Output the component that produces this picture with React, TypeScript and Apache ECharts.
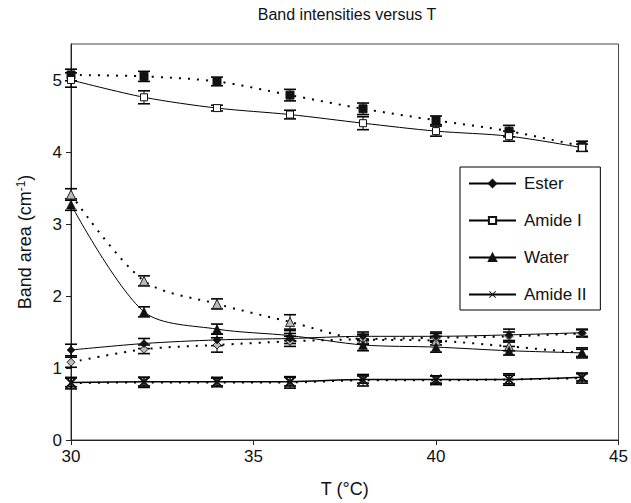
import React, { useEffect, useRef } from "react";
import * as echarts from "echarts";

const T = [30, 32, 34, 36, 38, 40, 42, 44];
const esterHeat = [1.25, 1.34, 1.39, 1.41, 1.44, 1.44, 1.46, 1.49];
const esterCool = [1.08, 1.26, 1.32, 1.37, 1.40, 1.42, 1.44, 1.48];
const amideIHeat = [5.0, 4.76, 4.61, 4.52, 4.4, 4.29, 4.22, 4.06];
const amideICool = [5.07, 5.05, 4.98, 4.79, 4.6, 4.44, 4.29, 4.08];
const waterHeat = [3.27, 1.78, 1.54, 1.45, 1.32, 1.29, 1.24, 1.21];
const waterCool = [3.41, 2.21, 1.89, 1.64, 1.4, 1.38, 1.3, 1.21];
const amideIIHeat = [0.8, 0.81, 0.81, 0.81, 0.84, 0.84, 0.84, 0.87];
const amideIICool = [0.79, 0.8, 0.8, 0.8, 0.83, 0.83, 0.84, 0.86];

const esterHeatErr = [0.08, 0.07, 0.08, 0.07, 0.06, 0.06, 0.08, 0.05];
const esterCoolErr = [0.07, 0.06, 0.1, 0.07, 0.06, 0.06, 0.06, 0.05];
const amideIHeatErr = [0.1, 0.09, 0.04, 0.06, 0.09, 0.07, 0.07, 0.05];
const amideICoolErr = [0.08, 0.07, 0.06, 0.08, 0.08, 0.06, 0.08, 0.07];
const waterHeatErr = [0.08, 0.07, 0.07, 0.07, 0.08, 0.07, 0.06, 0.07];
const waterCoolErr = [0.08, 0.07, 0.07, 0.1, 0.07, 0.06, 0.06, 0.05];
const amideIIHeatErr = [0.06, 0.06, 0.06, 0.06, 0.05, 0.05, 0.06, 0.05];
const amideIICoolErr = [0.05, 0.05, 0.05, 0.05, 0.05, 0.05, 0.05, 0.05];

const xTicks = [30, 35, 40, 45];
const yTicks = [0, 1, 2, 3, 4, 5];

const X_SYMBOL =
  "path://M0,1L1,0L5,4L9,0L10,1L6,5L10,9L9,10L5,6L1,10L0,9L4,5Z";

const FONT = "Liberation Sans, Arial, sans-serif";

function pairs(vals: number[]) {
  return T.map((t, i) => [t, vals[i]]);
}

function errData(vals: number[], errs: number[]) {
  return T.map((t, i) => [t, vals[i] - errs[i], vals[i] + errs[i]]);
}

export default function App() {
  const ref = useRef<HTMLDivElement>(null);

  useEffect(() => {
    document.body.style.margin = "0";
    if (!ref.current) return;
    const chart = echarts.init(ref.current, null, { renderer: "svg" });

    const allErr = [
      ...errData(esterHeat, esterHeatErr),
      ...errData(esterCool, esterCoolErr),
      ...errData(amideIHeat, amideIHeatErr),
      ...errData(amideICool, amideICoolErr),
      ...errData(waterHeat, waterHeatErr),
      ...errData(waterCool, waterCoolErr),
      ...errData(amideIIHeat, amideIIHeatErr),
      ...errData(amideIICool, amideICoolErr),
    ];

    const solid = { color: "#000", width: 1, type: "solid" as const };
    const dotted = { color: "#000", width: 2, type: [2, 7] as any };

    chart.setOption({
      animation: false,
      backgroundColor: "#fff",
      textStyle: { fontFamily: FONT },
      title: {
        text: "Band intensities versus T",
        left: 342,
        textAlign: "center",
        top: 1,
        textStyle: { fontFamily: FONT, fontSize: 16, fontWeight: "normal", color: "#111" },
      },
      grid: {
        left: 71,
        right: 11,
        top: 44,
        bottom: 61,
        show: true,
        borderColor: "#444",
        borderWidth: 1,
        backgroundColor: "transparent",
      },
      legend: {
        orient: "vertical",
        left: 460,
        top: 167,
        data: ["Ester", "Amide I", "Water", "Amide II"],
        itemWidth: 47,
        itemHeight: 9,
        itemGap: 20,
        padding: [8, 14, 7, 8],
        borderColor: "#000",
        borderWidth: 1,
        backgroundColor: "#fff",
        textStyle: { fontFamily: FONT, fontSize: 17, color: "#111", padding: [0, 0, 0, 3] },
      },
      xAxis: {
        type: "value",
        min: 30,
        max: 45,
        interval: 5,
        name: "T (°C)",
        nameLocation: "middle",
        nameGap: 40,
        nameTextStyle: { fontFamily: FONT, fontSize: 18, color: "#111" },
        axisLine: { lineStyle: { color: "#222", width: 1 } },
        axisTick: { show: true, length: 5, inside: false, lineStyle: { color: "#222" }, customValues: xTicks },
        axisLabel: { fontFamily: FONT, fontSize: 17, color: "#111", margin: 8, customValues: xTicks },
        splitLine: { show: false },
      },
      yAxis: {
        type: "value",
        min: 0,
        max: 5.5,
        interval: 1,
        name: "Band area (cm{sup|-1})",
        nameLocation: "middle",
        nameGap: 36,
        nameTextStyle: {
          fontFamily: FONT,
          fontSize: 18,
          color: "#111",
          lineHeight: 20,
          rich: {
            sup: { fontFamily: FONT, fontSize: 12, color: "#111", verticalAlign: "top", lineHeight: 12 },
          },
        },
        axisLine: { show: true, lineStyle: { color: "#222", width: 1 } },
        axisTick: { show: true, length: 5, inside: false, lineStyle: { color: "#222" }, customValues: yTicks },
        axisLabel: { fontFamily: FONT, fontSize: 17, color: "#111", margin: 9, customValues: yTicks },
        splitLine: { show: false },
      },
      series: [
        {
          type: "custom",
          name: "errors",
          z: 1,
          silent: true,
          data: allErr,
          encode: { x: 0, y: [1, 2] },
          renderItem: (params: any, api: any) => {
            const x = api.value(0);
            const lo = api.coord([x, api.value(1)]);
            const hi = api.coord([x, api.value(2)]);
            const w = 6;
            const st = { stroke: "#000", lineWidth: 1 };
            const cap = { stroke: "#000", lineWidth: 1.6 };
            return {
              type: "group",
              children: [
                { type: "line", shape: { x1: lo[0], y1: lo[1], x2: hi[0], y2: hi[1] }, style: st },
                { type: "line", shape: { x1: lo[0] - w, y1: lo[1], x2: lo[0] + w, y2: lo[1] }, style: cap },
                { type: "line", shape: { x1: hi[0] - w, y1: hi[1], x2: hi[0] + w, y2: hi[1] }, style: cap },
              ],
            };
          },
        },
        {
          type: "line",
          name: "Amide I (cool)",
          data: pairs(amideICool),
          smooth: 0.3,
          symbol: "rect",
          symbolSize: 8,
          lineStyle: dotted,
          itemStyle: { color: "#111", borderColor: "#111", borderWidth: 1 },
          z: 3,
        },
        {
          type: "line",
          name: "Water (cool)",
          data: pairs(waterCool),
          smooth: 0.3,
          symbol: "triangle",
          symbolSize: 9,
          lineStyle: dotted,
          itemStyle: { color: "#bbb", borderColor: "#222", borderWidth: 1 },
          z: 3,
        },
        {
          type: "line",
          name: "Ester (cool)",
          data: pairs(esterCool),
          smooth: 0.3,
          symbol: "diamond",
          symbolSize: 8,
          lineStyle: dotted,
          itemStyle: { color: "#bbb", borderColor: "#222", borderWidth: 1 },
          z: 3,
        },
        {
          type: "line",
          name: "Amide II (cool)",
          data: pairs(amideIICool),
          smooth: 0.3,
          symbol: X_SYMBOL,
          symbolSize: 11,
          lineStyle: dotted,
          itemStyle: { color: "#222" },
          z: 3,
        },
        {
          type: "line",
          name: "Ester",
          data: pairs(esterHeat),
          smooth: 0.3,
          symbol: "diamond",
          symbolSize: 8,
          lineStyle: solid,
          itemStyle: { color: "#111", borderColor: "#111", borderWidth: 0.5 },
          z: 4,
        },
        {
          type: "line",
          name: "Amide I",
          data: pairs(amideIHeat),
          smooth: 0.3,
          symbol: "rect",
          symbolSize: 7,
          lineStyle: solid,
          itemStyle: { color: "#fff", borderColor: "#111", borderWidth: 1 },
          z: 4,
        },
        {
          type: "line",
          name: "Water",
          data: pairs(waterHeat),
          smooth: 0.3,
          symbol: "triangle",
          symbolSize: 9,
          lineStyle: solid,
          itemStyle: { color: "#111", borderColor: "#111", borderWidth: 0.5 },
          z: 4,
        },
        {
          type: "line",
          name: "Amide II",
          data: pairs(amideIIHeat),
          smooth: 0.3,
          symbol: X_SYMBOL,
          symbolSize: 11,
          lineStyle: { color: "#000", width: 1.5, type: "solid" },
          itemStyle: { color: "#111" },
          z: 4,
        },
      ],
    });

    return () => chart.dispose();
  }, []);

  return <div ref={ref} style={{ width: 631, height: 503 }} />;
}
